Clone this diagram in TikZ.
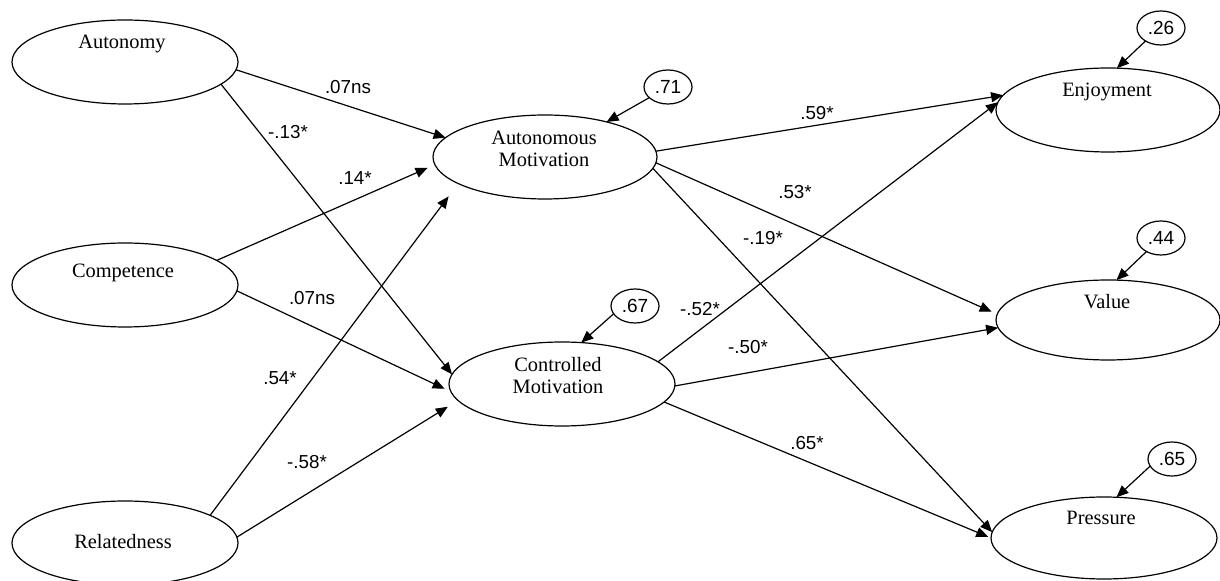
\documentclass[tikz,border=0pt]{standalone}
\usepackage{fontspec}
\setmainfont{Liberation Serif}
\newfontfamily\lsans{Liberation Sans}
\usetikzlibrary{shapes.geometric,arrows.meta}
\begin{document}
\begin{tikzpicture}[x=0.5pt,y=-0.5pt,
  latent/.style={ellipse,draw,line width=0.6pt,minimum width=113pt,minimum height=42pt,inner sep=0pt,outer sep=0pt},
  resid/.style={ellipse,draw,line width=0.6pt,minimum width=24pt,minimum height=17pt,inner sep=0pt,outer sep=0pt,font=\lsans\fontsize{9.5}{11}\selectfont},
  nametxt/.style={font=\fontsize{10.2}{11}\selectfont,align=center,inner sep=0pt},
  coef/.style={font=\lsans\fontsize{9.4}{11}\selectfont,inner sep=0pt},
  arr/.style={line width=0.6pt,-{Triangle[length=6pt,width=5pt]}},
  plain/.style={line width=0.6pt}]
\useasboundingbox (0,0) rectangle (1220,581);
% latent variables
\node[latent] (aut) at (125,62) {};
\node[latent] (com) at (125,285) {};
\node[latent] (rel) at (125,543) {};
\node[latent,minimum width=112pt] (am) at (545,157) {};
\node[latent] (cm) at (562,384) {};
\node[latent,minimum width=112pt] (enj) at (1108,110) {};
\node[latent,minimum width=112pt,minimum height=40pt] (val) at (1108,320) {};
\node[latent,minimum height=41pt] (pre) at (1104,538) {};
% texts
\node[nametxt] (autT) at (122,44) {Autonomy};
\node[nametxt] (comT) at (123,273) {Competence};
\node[nametxt] (relT) at (123,542) {Relatedness};
\node[nametxt] (amT) at (544,149) {Autonomous\\Motivation};
\node[nametxt] (cmT) at (558,376) {Controlled\\Motivation};
\node[nametxt] (enjT) at (1107,92) {Enjoyment};
\node[nametxt] (valT) at (1107,302) {Value};
\node[nametxt] (preT) at (1101,518) {Pressure};
% residuals
\node[resid] (r71) at (668,87) {.71};
\node[resid] (r67) at (635,306) {.67};
\node[resid] (r26) at (1161,28) {.26};
\node[resid] (r44) at (1161,238) {.44};
\node[resid] (r65) at (1172,459) {.65};
% paths from basic needs
\draw[arr] (aut.-4) -- (am.169);
\draw[arr] (aut.-13) -- (cm.175);
\draw[arr,shorten >=4pt] (com.15) -- (am.184);
\draw[arr,shorten >=3.5pt] (com.-3.5) -- (cm.184);
\draw[arr,shorten >=8pt] (rel.18.6) -- (am.197);
\draw[arr,shorten >=6pt] (rel.3) -- (cm.189.4);
% paths to outcomes
\draw[arr] (am.3) -- (enj.172);
\draw[arr,shorten >=3pt] (am.-3) -- (val.177);
\draw[arr] (am.-6) -- (pre.177);
\draw[arr] (cm.13) -- (enj.176);
\draw[arr] (cm.-1) -- (val.184);
\draw[arr,shorten >=1.5pt] (cm.-10) -- (pre.180);
% residual arrows
\draw[arr] (r71) -- (am);
\draw[arr] (r67.200) -- (cm.65);
\draw[arr] (r26.220) -- (enj.78);
\draw[arr] (r44.223) -- (val.78);
\draw[arr] (r65.198) -- (pre.73);
% coefficients
\node[coef] (c1) at (348,87) {.07ns};
\node[coef] (c2) at (288,132) {-.13*};
\node[coef] (c3) at (355,178) {.14*};
\node[coef] (c4) at (312,298) {.07ns};
\node[coef] (c5) at (280,378) {.54*};
\node[coef] (c6) at (307,462) {-.58*};
\node[coef] (c7) at (817,113) {.59*};
\node[coef] (c8) at (795,192) {.53*};
\node[coef] (c9) at (763,238) {-.19*};
\node[coef] (c10) at (700,309) {-.52*};
\node[coef] (c11) at (748,347) {-.50*};
\node[coef] (c12) at (807,443) {.65*};
\end{tikzpicture}
\end{document}
